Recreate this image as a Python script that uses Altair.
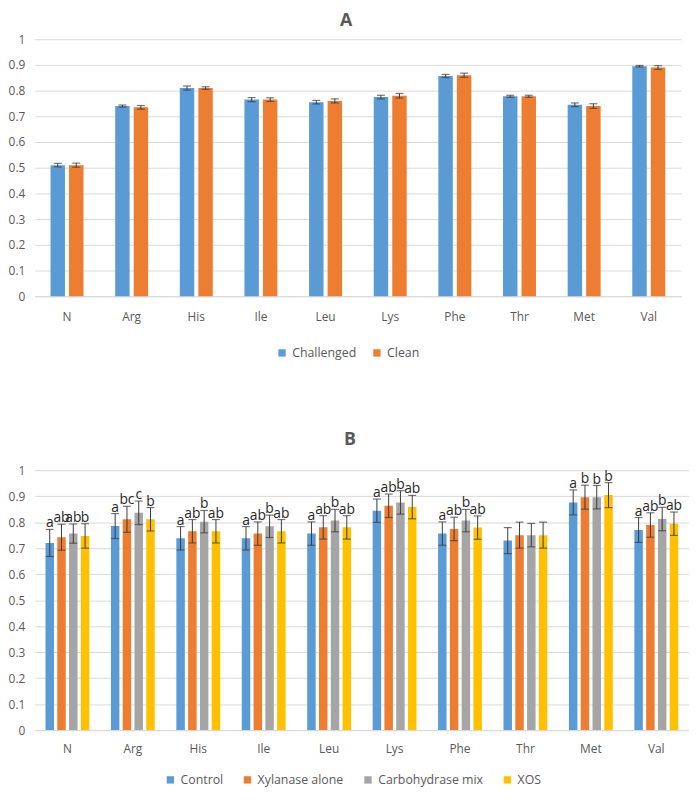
import altair as alt
import pandas as pd

amino = ["N", "Arg", "His", "Ile", "Leu", "Lys", "Phe", "Thr", "Met", "Val"]

# Panel A
a_series = ["Challenged", "Clean"]
a_challenged = [0.510, 0.740, 0.810, 0.765, 0.755, 0.775, 0.857, 0.778, 0.745, 0.895]
a_clean = [0.510, 0.735, 0.810, 0.765, 0.760, 0.780, 0.860, 0.778, 0.740, 0.890]
a_challenged_err = [0.007, 0.004, 0.008, 0.008, 0.007, 0.007, 0.006, 0.004, 0.007, 0.003]
a_clean_err = [0.008, 0.007, 0.005, 0.007, 0.008, 0.009, 0.008, 0.004, 0.009, 0.007]

# Panel B
b_series = ["Control", "Xylanase alone", "Carbohydrase mix", "XOS"]
b_control = [0.720, 0.785, 0.738, 0.738, 0.756, 0.844, 0.756, 0.729, 0.876, 0.770]
b_xylanase = [0.742, 0.811, 0.765, 0.756, 0.780, 0.863, 0.774, 0.750, 0.896, 0.789]
b_carbohydrase = [0.756, 0.836, 0.802, 0.784, 0.806, 0.876, 0.806, 0.750, 0.896, 0.812]
b_xos = [0.747, 0.811, 0.765, 0.765, 0.780, 0.858, 0.779, 0.750, 0.904, 0.794]
b_control_err = [0.052, 0.048, 0.045, 0.045, 0.045, 0.045, 0.045, 0.050, 0.048, 0.048]
b_xylanase_err = [0.050, 0.050, 0.045, 0.045, 0.045, 0.045, 0.045, 0.050, 0.046, 0.047]
b_carbohydrase_err = [0.037, 0.045, 0.043, 0.043, 0.043, 0.045, 0.043, 0.045, 0.045, 0.045]
b_xos_err = [0.047, 0.045, 0.045, 0.045, 0.045, 0.045, 0.045, 0.050, 0.048, 0.045]
b_control_lbl = ["a", "a", "a", "a", "a", "a", "a", "", "a", "a"]
b_xylanase_lbl = ["ab", "bc", "ab", "ab", "ab", "ab", "ab", "", "b", "ab"]
b_carbohydrase_lbl = ["ab", "c", "b", "b", "b", "b", "b", "", "b", "b"]
b_xos_lbl = ["b", "b", "ab", "ab", "ab", "ab", "ab", "", "b", "ab"]

y_ticks = [0, 0.1, 0.2, 0.3, 0.4, 0.5, 0.6, 0.7, 0.8, 0.9, 1.0]

rows_a = []
for name, vals, errs in [("Challenged", a_challenged, a_challenged_err),
                         ("Clean", a_clean, a_clean_err)]:
    for aa, v, e in zip(amino, vals, errs):
        rows_a.append(dict(aa=aa, grp=name, v=v, lo=v - e, hi=v + e))
df_a = pd.DataFrame(rows_a)

rows_b = []
for name, vals, errs, lbls in [("Control", b_control, b_control_err, b_control_lbl),
                               ("Xylanase alone", b_xylanase, b_xylanase_err, b_xylanase_lbl),
                               ("Carbohydrase mix", b_carbohydrase, b_carbohydrase_err, b_carbohydrase_lbl),
                               ("XOS", b_xos, b_xos_err, b_xos_lbl)]:
    for aa, v, e, l in zip(amino, vals, errs, lbls):
        rows_b.append(dict(aa=aa, grp=name, v=v, lo=v - e, hi=v + e, lbl=l))
df_b = pd.DataFrame(rows_b)

FONT = "Open Sans"
TXT = "#595959"
ERR = "#3a3a3a"


def panel(df, series, colors, title, width, height, pin, off_pin, cap, col_pad,
          leg_x, leg_y, title_off, xpad, letters=False):
    x = alt.X("aa:N", sort=amino, title=None,
              scale=alt.Scale(paddingInner=pin, paddingOuter=pin / 2),
              axis=alt.Axis(labelAngle=0, ticks=False, domainColor="#D9D9D9",
                            labelPadding=xpad, labelFontSize=12, labelColor=TXT, labelFont=FONT))
    xo = alt.XOffset("grp:N", sort=series, scale=alt.Scale(domain=series, paddingInner=off_pin))
    yaxis = alt.Axis(values=y_ticks, format="~g", domain=False, ticks=False, labelOverlap=False,
                     grid=True, gridColor="#D9D9D9", labelPadding=10, labelFontSize=12,
                     labelColor=TXT, labelFont=FONT, title=None)
    yscale = alt.Scale(domain=[0, 1])
    color = alt.Color("grp:N", sort=series,
                      scale=alt.Scale(domain=series, range=colors),
                      legend=alt.Legend(orient="none", legendX=leg_x, legendY=leg_y,
                                        title=None, direction="horizontal",
                                        symbolType="square", symbolSize=55, symbolStrokeWidth=0,
                                        labelFontSize=12.5, labelColor=TXT, labelFont=FONT,
                                        columnPadding=col_pad, labelOffset=4))
    base = alt.Chart(df)
    bars = base.mark_bar().encode(x=x, xOffset=xo,
                                  y=alt.Y("v:Q", scale=yscale, axis=yaxis), color=color)
    rule = base.mark_rule(color=ERR, strokeWidth=1).encode(
        x=x, xOffset=xo, y=alt.Y("lo:Q", scale=yscale, axis=yaxis), y2="hi:Q")
    cap_hi = base.mark_tick(color=ERR, size=cap, thickness=1.2).encode(
        x=x, xOffset=xo, y=alt.Y("hi:Q", scale=yscale, axis=yaxis))
    cap_lo = base.mark_tick(color=ERR, size=cap, thickness=1.2).encode(
        x=x, xOffset=xo, y=alt.Y("lo:Q", scale=yscale, axis=yaxis))
    layers = [bars, rule, cap_hi, cap_lo]
    if letters:
        txt = base.mark_text(baseline="bottom", dy=1, fontSize=14, color="#262626", font=FONT).encode(
            x=x, xOffset=xo, y=alt.Y("hi:Q", scale=yscale, axis=yaxis), text="lbl:N")
        layers.append(txt)
    return alt.layer(*layers).properties(
        width=width, height=height,
        title=alt.TitleParams(title, fontSize=18, fontWeight="bold", color=TXT, font=FONT,
                              anchor="middle", dx=-12, offset=title_off))


chart_a = panel(df_a, a_series, ["#5B9BD5", "#ED7D31"], "A", 654, 260, 0.49, 0.22, 8, 14,
                244, 311, 3, 16)
chart_b = panel(df_b, b_series, ["#5B9BD5", "#ED7D31", "#A5A5A5", "#FFC000"], "B",
                662, 263, 0.33, 0.28, 8, 18, 131, 307, 15, 14, letters=True)

chart = alt.vconcat(chart_a, chart_b, spacing=73).resolve_scale(
    color="independent", x="independent", y="independent", xOffset="independent"
).properties(padding=0).configure_view(stroke=None)

chart.save("out.html", embed_options={"renderer": "svg", "actions": False})
